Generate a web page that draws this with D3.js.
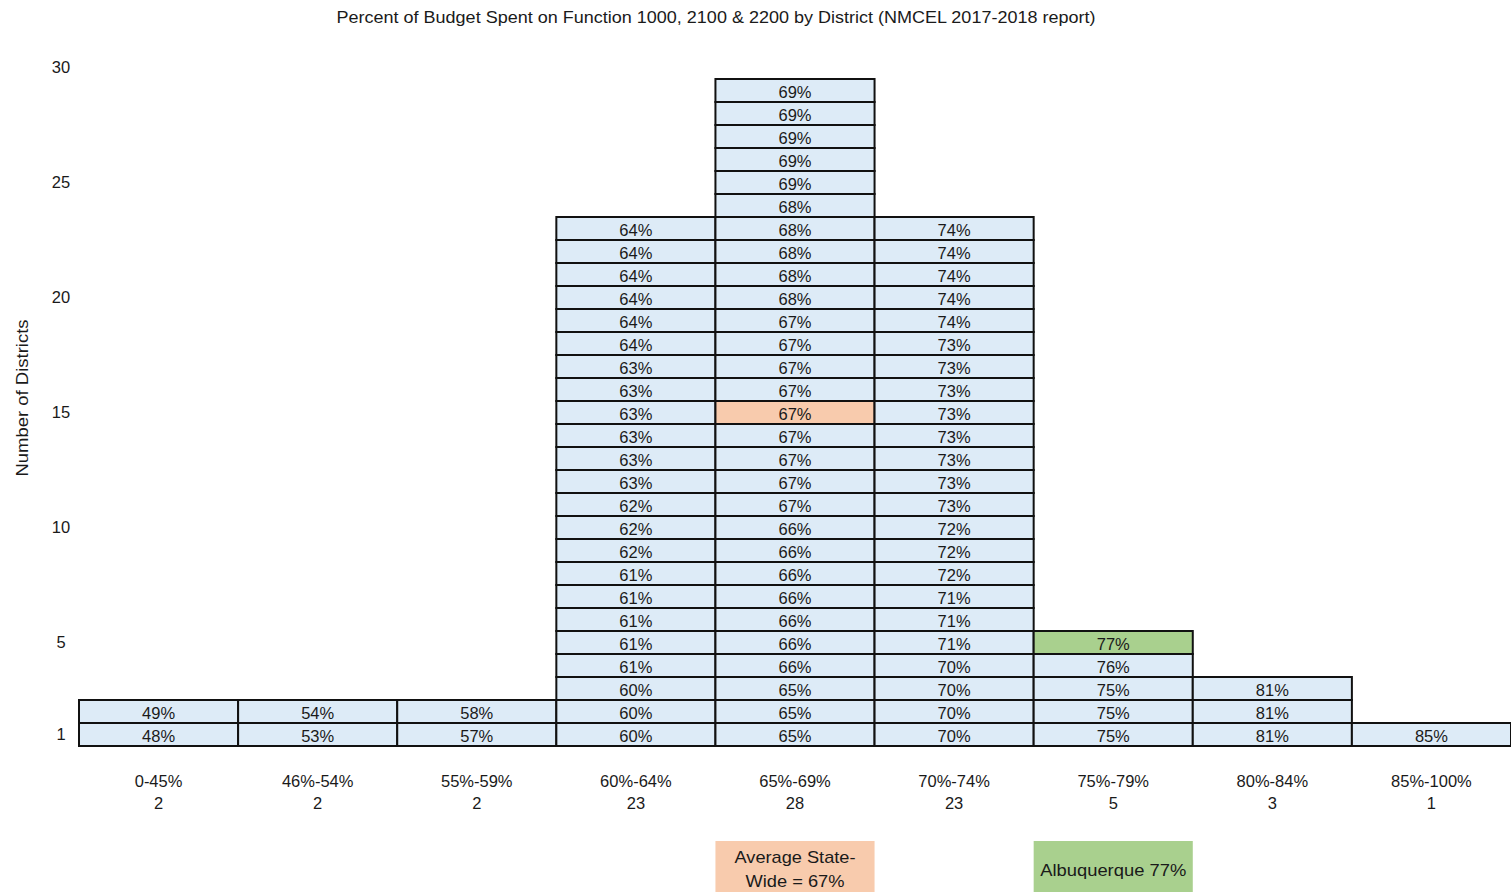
<!DOCTYPE html>
<html>
<head>
<meta charset="utf-8">
<script src="https://cdn.jsdelivr.net/npm/d3@7"></script>
<style>
  html, body { margin: 0; padding: 0; background: #fff; }
  svg { display: block; }
  text { font-family: "Liberation Sans", Arial, sans-serif; fill: #1a1a1a; }
</style>
</head>
<body>
<svg id="chart" width="1511" height="892"></svg>
<script>
// Percentage bands (x categories) and the district count printed under each band
const categories = ["0-45%", "46%-54%", "55%-59%", "60%-64%", "65%-69%", "70%-74%", "75%-79%", "80%-84%", "85%-100%"];
const bandCounts = [2, 2, 2, 23, 28, 23, 5, 3, 1];

// District percentages in each band, stacked bottom to top
const band0_45   = [48, 49];
const band46_54  = [53, 54];
const band55_59  = [57, 58];
const band60_64  = [60, 60, 60, 61, 61, 61, 61, 61, 62, 62, 62, 63, 63, 63, 63, 63, 63, 64, 64, 64, 64, 64, 64];
const band65_69  = [65, 65, 65, 66, 66, 66, 66, 66, 66, 66, 67, 67, 67, 67, 67, 67, 67, 67, 67, 68, 68, 68, 68, 68, 69, 69, 69, 69, 69];
const band70_74  = [70, 70, 70, 70, 71, 71, 71, 72, 72, 72, 73, 73, 73, 73, 73, 73, 73, 73, 74, 74, 74, 74, 74];
const band75_79  = [75, 75, 75, 76, 77];
const band80_84  = [81, 81, 81];
const band85_100 = [85];
const bandValues = [band0_45, band46_54, band55_59, band60_64, band65_69, band70_74, band75_79, band80_84, band85_100];

// Y-axis tick values
const yTicks = [1, 5, 10, 15, 20, 25, 30];

// Highlighted districts: band, stack position (1 = bottom), legend text
const highlightBands = ["65%-69%", "75%-79%"];
const highlightRanks = [15, 5];
const highlightFills = ["#F8CBAD", "#A9D08E"];
const legendLines = [["Average State-", "Wide = 67%"], ["Albuquerque 77%"]];
const legendWidths = [[121, 99], [146]];

const title = "Percent of Budget Spent on Function 1000, 2100 & 2200 by District (NMCEL 2017-2018 report)";
const yTitle = "Number of Districts";

const svg = d3.select("#chart");
const cellFill = "#DDEBF7";

const x = d3.scaleBand().domain(categories).range([79, 1511]).padding(0);
// each district occupies one unit; rank k is centred on value k
const y = d3.scaleLinear().domain([0.5, 30]).range([746, 67.5]);

// title
svg.append("text")
  .attr("x", 716).attr("y", 17)
  .attr("text-anchor", "middle").attr("dominant-baseline", "central")
  .attr("font-size", 16.5)
  .attr("textLength", 759).attr("lengthAdjust", "spacingAndGlyphs")
  .text(title);

// y axis (labels only)
const yAxis = d3.axisLeft(y).tickValues(yTicks).tickSize(0).tickPadding(0).tickFormat(d3.format("d"));
const yg = svg.append("g").attr("transform", "translate(70,0)").call(yAxis);
yg.select(".domain").remove();
yg.selectAll("text")
  .attr("font-family", "Liberation Sans, Arial, sans-serif")
  .attr("font-size", 16.5).attr("fill", "#1a1a1a")
  .attr("text-anchor", "middle").attr("x", -9);

svg.append("text")
  .attr("transform", "translate(22,398) rotate(-90)")
  .attr("text-anchor", "middle").attr("dominant-baseline", "central")
  .attr("font-size", 17)
  .attr("textLength", 157).attr("lengthAdjust", "spacingAndGlyphs")
  .text(yTitle);

// cells
const cells = [];
categories.forEach((cat, ci) => {
  bandValues[ci].forEach((v, i) => {
    const rank = i + 1;
    const h = highlightBands.findIndex((b, hi) => b === cat && highlightRanks[hi] === rank);
    cells.push({ cat, rank, v, fill: h >= 0 ? highlightFills[h] : cellFill });
  });
});

const cellG = svg.append("g");
cellG.selectAll("rect").data(cells).join("rect")
  .attr("x", d => x(d.cat))
  .attr("y", d => y(d.rank + 0.5))
  .attr("width", x.bandwidth())
  .attr("height", d => y(d.rank - 0.5) - y(d.rank + 0.5))
  .attr("fill", d => d.fill)
  .attr("stroke", "#111")
  .attr("stroke-width", 2);

cellG.selectAll("text").data(cells).join("text")
  .attr("x", d => x(d.cat) + x.bandwidth() / 2)
  .attr("y", d => y(d.rank) + 1)
  .attr("text-anchor", "middle").attr("dominant-baseline", "central")
  .attr("font-size", 16.5)
  .text(d => d.v + "%");

// category labels with counts
const catG = svg.append("g");
categories.forEach((cat, ci) => {
  const cx = x(cat) + x.bandwidth() / 2;
  catG.append("text").attr("x", cx).attr("y", 781)
    .attr("text-anchor", "middle").attr("dominant-baseline", "central")
    .attr("font-size", 16.5).text(cat);
  catG.append("text").attr("x", cx).attr("y", 803)
    .attr("text-anchor", "middle").attr("dominant-baseline", "central")
    .attr("font-size", 16.5).text(bandCounts[ci]);
});

// legend boxes below the highlighted bands
highlightBands.forEach((b, i) => {
  const bx = x(b);
  svg.append("rect")
    .attr("x", bx).attr("y", 841)
    .attr("width", x.bandwidth()).attr("height", 60)
    .attr("fill", highlightFills[i]);
  const lines = legendLines[i];
  const cy = lines.length === 1 ? 870 : 857;
  lines.forEach((ln, li) => {
    svg.append("text")
      .attr("x", bx + x.bandwidth() / 2).attr("y", cy + li * 24)
      .attr("text-anchor", "middle").attr("dominant-baseline", "central")
      .attr("font-size", 17)
      .attr("textLength", legendWidths[i][li]).attr("lengthAdjust", "spacingAndGlyphs")
      .text(ln);
  });
});
</script>
</body>
</html>
